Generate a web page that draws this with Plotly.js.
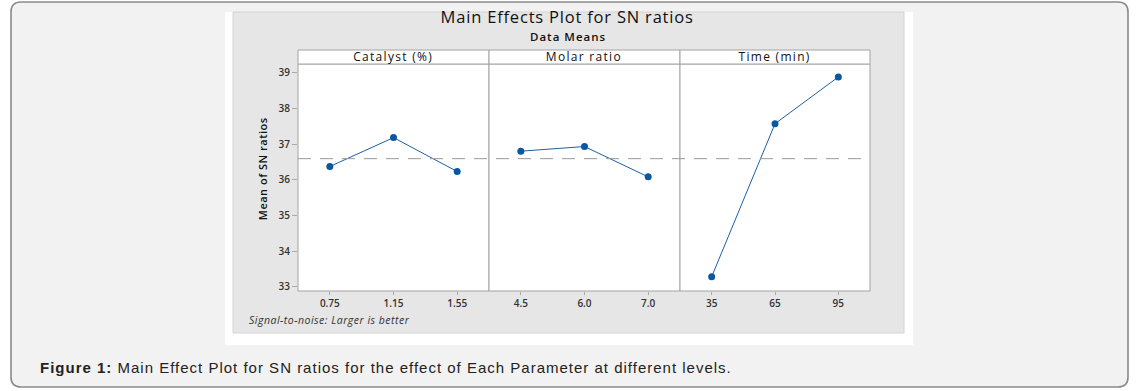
<!DOCTYPE html>
<html>
<head>
<meta charset="utf-8">
<script src="https://cdn.plot.ly/plotly-3.0.1.min.js"></script>
<style>
html,body{margin:0;padding:0;background:#fff;}
#chart{width:1139px;height:391px;}
#chart g.annotation[data-index="0"] text{letter-spacing:0.8px;}
#chart g.annotation[data-index="1"] text{letter-spacing:1px;}
#chart g.annotation[data-index="2"] text{letter-spacing:0.5px;}
#chart g.annotation[data-index="3"] text{letter-spacing:0.5px;}
#chart g.annotation[data-index="4"] text{letter-spacing:1px;}
#chart g.annotation[data-index="5"] text,
#chart g.annotation[data-index="6"] text,
#chart g.annotation[data-index="7"] text{letter-spacing:1.3px;}
</style>
</head>
<body>
<div id="chart"></div>
<script>
// ---- data ----
const catalystLevels = ['0.75', '1.15', '1.55'];
const catalystSN = [36.37, 37.18, 36.23];
const molarLevels = ['4.5', '6.0', '7.0'];
const molarSN = [36.80, 36.93, 36.08];
const timeLevels = ['35', '65', '95'];
const timeSN = [33.28, 37.57, 38.88];
const overallMean = 36.59;
const panelTitles = ['Catalyst (%)', 'Molar ratio', 'Time (min)'];
const yTicks = [33, 34, 35, 36, 37, 38, 39];

// ---- geometry helpers (pixels -> paper) ----
const W = 1139, H = 391;
const px = x => x / W;
const py = y => 1 - y / H;

const panelX = [[298, 489], [489, 680], [680, 870]];
const plotTop = 64, plotBot = 291, headTop = 50;

const lineColor = '#1d5fa6';
const markColor = '#0b57a4';
const tickFont = {family: 'Open Sans, Noto Sans, sans-serif', size: 10, color: '#333', weight: 600};

function rectShape(x0, y0, x1, y1, fill, line, lw) {
  return {type: 'rect', xref: 'paper', yref: 'paper', layer: 'below',
    x0: px(x0), x1: px(x1), y0: py(y1), y1: py(y0),
    fillcolor: fill, line: {color: line || fill, width: lw === undefined ? 1 : lw}};
}
function roundRectPath(x0, y0, x1, y1, r) {
  const X = px, Y = py;
  return `M ${X(x0 + r)},${Y(y0)} L ${X(x1 - r)},${Y(y0)} Q ${X(x1)},${Y(y0)} ${X(x1)},${Y(y0 + r)} ` +
    `L ${X(x1)},${Y(y1 - r)} Q ${X(x1)},${Y(y1)} ${X(x1 - r)},${Y(y1)} ` +
    `L ${X(x0 + r)},${Y(y1)} Q ${X(x0)},${Y(y1)} ${X(x0)},${Y(y1 - r)} ` +
    `L ${X(x0)},${Y(y0 + r)} Q ${X(x0)},${Y(y0)} ${X(x0 + r)},${Y(y0)} Z`;
}

const shapes = [
  {type: 'path', xref: 'paper', yref: 'paper', layer: 'below',
   path: roundRectPath(11, 2, 1128, 387, 10), fillcolor: '#f2f2f2', line: {color: '#8a8a8a', width: 1.6}},
  rectShape(225, 12, 913, 345, '#ffffff', '#ffffff', 0),
  rectShape(233, 12, 904, 333, '#e6e6e6', '#d4d4d4', 1),
];
panelX.forEach(([a, b]) => {
  shapes.push(rectShape(a, plotTop, b, plotBot, '#ffffff', '#a3a3a3', 1));
  shapes.push(rectShape(a, headTop, b, plotTop, '#ffffff', '#a3a3a3', 1));
});
// overall mean reference line across all panels
shapes.push({type: 'line', xref: 'paper', yref: 'y', layer: 'above',
  x0: px(panelX[0][0]), x1: px(panelX[2][1]), y0: overallMean, y1: overallMean,
  line: {color: '#9a9a9a', width: 1, dash: '13px,9px'}});

const series = [[catalystLevels, catalystSN], [molarLevels, molarSN], [timeLevels, timeSN]];
const traces = series.map(([lv, vals], i) => ({
  type: 'scatter', mode: 'lines+markers',
  x: lv, y: vals, xaxis: i === 0 ? 'x' : 'x' + (i + 1), yaxis: 'y',
  line: {color: lineColor, width: 1},
  marker: {color: markColor, size: 7, symbol: 'circle'},
  hoverinfo: 'x+y', cliponaxis: false
}));

function xAxis(i) {
  return {domain: [px(panelX[i][0]), px(panelX[i][1])], anchor: 'y', type: 'category',
    range: [-0.5, 2.5], showgrid: false, zeroline: false, showline: false,
    ticks: 'outside', ticklen: 3, tickcolor: '#aaa', tickwidth: 1, tickfont: tickFont, fixedrange: true};
}

const annotations = [
  {text: 'Main Effects Plot for SN ratios', x: px(567), y: py(16.5), xref: 'paper', yref: 'paper',
   showarrow: false, xanchor: 'center', yanchor: 'middle',
   font: {family: 'Open Sans, Noto Sans, sans-serif', size: 16.5, color: '#111'}},
  {text: 'Data Means', x: px(568), y: py(37), xref: 'paper', yref: 'paper',
   showarrow: false, xanchor: 'center', yanchor: 'middle',
   font: {family: 'Open Sans, Noto Sans, sans-serif', size: 11.5, color: '#111', weight: 600}},
  {text: 'Mean of SN ratios', x: px(262), y: py(169), xref: 'paper', yref: 'paper', textangle: -90,
   showarrow: false, xanchor: 'center', yanchor: 'middle',
   font: {family: 'Open Sans, Noto Sans, sans-serif', size: 11, color: '#111', weight: 600}},
  {text: 'Signal-to-noise: Larger is better', x: px(247), y: py(320), xref: 'paper', yref: 'paper',
   showarrow: false, xanchor: 'left', yanchor: 'middle', align: 'left',
   font: {family: 'Open Sans, Noto Sans, sans-serif', size: 10.5, color: '#333', style: 'italic'}},
  {text: '<b>Figure 1:</b> Main Effect Plot for SN ratios for the effect of Each Parameter at different levels.',
   x: px(38), y: py(367), xref: 'paper', yref: 'paper', showarrow: false, xanchor: 'left', yanchor: 'middle', align: 'left',
   font: {family: 'Liberation Sans, Arial, sans-serif', size: 15, color: '#222'}}
];
panelTitles.forEach((t, i) => {
  annotations.push({text: t, x: px((panelX[i][0] + panelX[i][1]) / 2), y: py((headTop + plotTop) / 2),
    xref: 'paper', yref: 'paper', showarrow: false, xanchor: 'center', yanchor: 'middle',
    font: {family: 'Open Sans, Noto Sans, sans-serif', size: 12, color: '#111'}});
});

const layout = {
  width: W, height: H, margin: {l: 0, r: 0, t: 0, b: 0, pad: 0},
  paper_bgcolor: '#ffffff', plot_bgcolor: 'rgba(0,0,0,0)', showlegend: false,
  xaxis: xAxis(0), xaxis2: xAxis(1), xaxis3: xAxis(2),
  yaxis: {domain: [py(plotBot), py(plotTop)], anchor: 'x', range: [32.88, 39.244],
    tickvals: yTicks, showgrid: false, zeroline: false, showline: false,
    ticks: 'outside', ticklen: 5, tickcolor: '#aaa', tickwidth: 1, tickfont: tickFont, fixedrange: true},
  shapes: shapes, annotations: annotations
};

Plotly.newPlot('chart', traces, layout, {displayModeBar: false, staticPlot: true});
</script>
</body>
</html>
